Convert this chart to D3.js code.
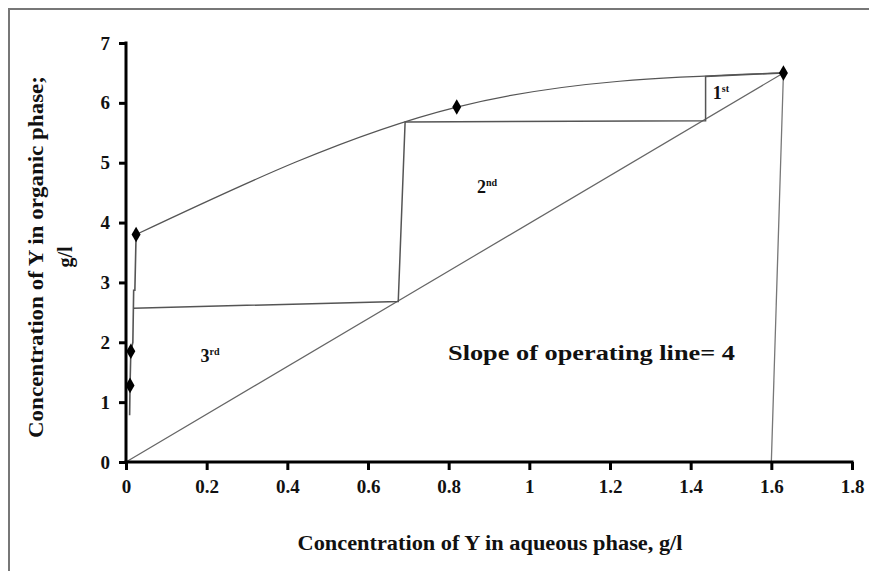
<!DOCTYPE html>
<html><head><meta charset="utf-8">
<script src="https://cdn.jsdelivr.net/npm/d3@7"></script>
<style>
html,body{margin:0;padding:0;background:#fff;}
svg text{font-family:"Liberation Serif","Times New Roman",serif;font-weight:bold;fill:#111;}
</style></head>
<body>
<svg id="c" width="869" height="571"></svg>
<script>
// ---- data ----
const xTicks = [0, 0.2, 0.4, 0.6, 0.8, 1.0, 1.2, 1.4, 1.6, 1.8];
const xTickLabels = ["0", "0.2", "0.4", "0.6", "0.8", "1", "1.2", "1.4", "1.6", "1.8"];
const yTicks = [0, 1, 2, 3, 4, 5, 6, 7];
const yTickLabels = ["0", "1", "2", "3", "4", "5", "6", "7"];
// equilibrium data points (aqueous, organic)
const eqX = [0.010, 0.012, 0.025, 0.82, 1.63];
const eqY = [1.28, 1.85, 3.80, 5.93, 6.50];
// operating line (slope 4)
const opX = [0, 1.63];
const opY = [0, 6.50];
// stage construction (staircase)
const stairX = [1.63, 1.437, 1.437, 0.692, 0.675, 0.018];
const stairY = [6.50, 6.44, 5.70, 5.68, 2.68, 2.57];
// near-axis vertical steps
const lowX = [0.025, 0.022, 0.019, 0.017, 0.012, 0.010, 0.009];
const lowY = [3.80, 2.87, 2.87, 2.00, 1.85, 1.28, 0.78];
// feed line to x axis
const feedX = [1.63, 1.60];
const feedY = [6.50, 0];
const stageLabels = ["1", "2", "3"];
const stageSup = ["st", "nd", "rd"];
const stageLabX = [1.455, 0.87, 0.185];
const stageLabY = [6.07, 4.5, 1.67];
const xTitle = "Concentration of Y in aqueous phase, g/l";
const yTitle1 = "Concentration of Y in organic phase;";
const yTitle2 = "g/l";
const note = "Slope of operating line= 4";

// ---- drawing ----
const svg = d3.select("#c");
svg.append("rect").attr("x", 9).attr("y", 9).attr("width", 900).attr("height", 600)
  .attr("fill", "none").attr("stroke", "#777").attr("stroke-width", 2);

const x = d3.scaleLinear().domain([0, 1.8]).range([126, 852]);
const y = d3.scaleLinear().domain([0, 7]).range([462, 43]);

const pts = (xs, ys) => xs.map((v, i) => [v, ys[i]]);
const line = d3.line().x(d => x(d[0])).y(d => y(d[1]));

// operating line
svg.append("path").attr("d", line(pts(opX, opY)))
  .attr("fill", "none").attr("stroke", "#666").attr("stroke-width", 1.2);
// feed line
svg.append("path").attr("d", line(pts(feedX, feedY)))
  .attr("fill", "none").attr("stroke", "#777").attr("stroke-width", 1.3);
// staircase
svg.append("path").attr("d", line(pts(stairX, stairY)))
  .attr("fill", "none").attr("stroke", "#555").attr("stroke-width", 1.5);
// low vertical steps
svg.append("path").attr("d", line(pts(lowX, lowY)))
  .attr("fill", "none").attr("stroke", "#555").attr("stroke-width", 1.6);
// equilibrium curve (smooth part)
const eqPts = pts(eqX, eqY);
svg.append("path").attr("d", d3.line().x(d => x(d[0])).y(d => y(d[1])).curve(d3.curveNatural)(eqPts.slice(2)))
  .attr("fill", "none").attr("stroke", "#555").attr("stroke-width", 1.2);
// markers
svg.selectAll(".mk").data(eqPts).join("path").attr("class", "mk")
  .attr("transform", d => `translate(${x(d[0])},${y(d[1])})`)
  .attr("d", d3.symbol().type(d3.symbolDiamond).size(70))
  .attr("fill", "#000");

// axes
const xa = svg.append("g").attr("transform", `translate(0,${y(0)})`)
  .call(d3.axisBottom(x).tickValues(xTicks).tickFormat((d, i) => xTickLabels[i]).tickSize(8).tickSizeOuter(0).tickPadding(10));
const ya = svg.append("g").attr("transform", `translate(${x(0)},0)`)
  .call(d3.axisLeft(y).tickValues(yTicks).tickFormat((d, i) => yTickLabels[i]).tickSize(7).tickSizeOuter(0).tickPadding(9));
[xa, ya].forEach(g => {
  g.select(".domain").attr("stroke", "#000").attr("stroke-width", 3);
  g.selectAll(".tick line").attr("stroke", "#000").attr("stroke-width", 3);
  g.selectAll(".tick text").style("font-family", '"Liberation Serif",serif').style("font-weight", "bold")
    .style("font-size", "19px").attr("fill", "#111");
});
xa.select(".domain").attr("d", `M${x(0) - 1.5},0H${x(1.8) + 1.5}`);
ya.select(".domain").attr("d", `M0,${y(0) + 1.5}V${y(7) - 1.5}`);

// titles
svg.append("text").attr("x", 490).attr("y", 550).attr("text-anchor", "middle")
  .style("font-size", "20px").attr("textLength", 385).attr("lengthAdjust", "spacingAndGlyphs").text(xTitle);
svg.append("text").attr("transform", "translate(43,257) rotate(-90)").attr("text-anchor", "middle")
  .style("font-size", "20px").attr("textLength", 362).attr("lengthAdjust", "spacingAndGlyphs").text(yTitle1);
svg.append("text").attr("transform", "translate(72,257) rotate(-90)").attr("text-anchor", "middle")
  .style("font-size", "20px").text(yTitle2);

// stage labels
stageLabels.forEach((s, i) => {
  const t = svg.append("text").attr("x", x(stageLabX[i])).attr("y", y(stageLabY[i]))
    .style("font-size", "18px");
  t.append("tspan").text(s);
  t.append("tspan").attr("dy", -7).style("font-size", "10px").text(stageSup[i]);
});
svg.append("text").attr("x", 448).attr("y", 360).style("font-size", "20px")
  .attr("textLength", 287).attr("lengthAdjust", "spacingAndGlyphs").text(note);
</script>
</body></html>
